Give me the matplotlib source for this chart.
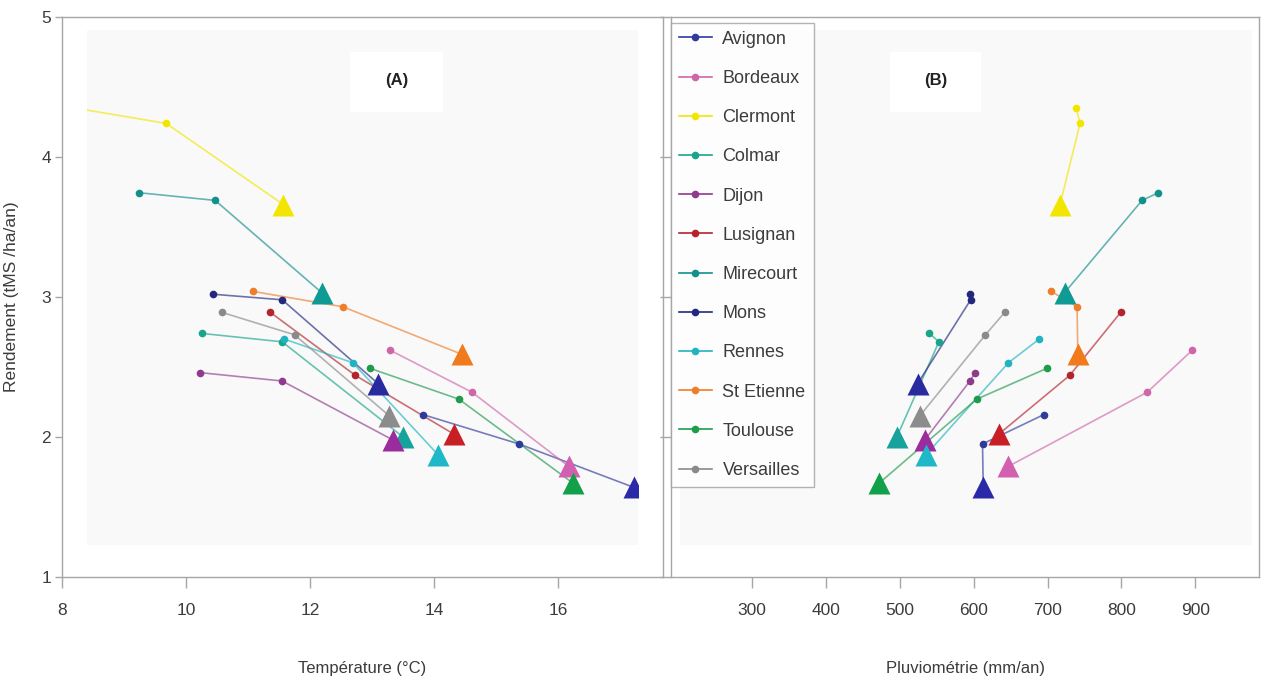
import matplotlib
matplotlib.use("Agg")
import matplotlib.pyplot as plt
from matplotlib.lines import Line2D
from matplotlib.patches import Rectangle

plt.rcParams['font.family'] = ['Liberation Sans', 'DejaVu Sans']

# Rendement des prairies selon la temperature (A) et la pluviometrie (B)
# two observed periods (circles) then the projected period (triangle)
cities = ['Avignon', 'Bordeaux', 'Clermont', 'Colmar', 'Dijon', 'Lusignan',
          'Mirecourt', 'Mons', 'Rennes', 'St Etienne', 'Toulouse', 'Versailles']

temp_c = [
    [13.82, 15.37, 17.22],
    [13.29, 14.61, 16.17],
    [8.20, 9.68, 11.57],
    [10.25, 11.55, 13.50],
    [10.22, 11.55, 13.33],
    [11.36, 12.73, 14.32],
    [9.24, 10.47, 12.19],
    [10.43, 11.55, 13.10],
    [11.58, 12.69, 14.07],
    [11.08, 12.53, 14.45],
    [12.97, 14.40, 16.24],
    [10.58, 11.75, 13.28],
]

pluvio_mm = [
    [695, 612, 613],
    [896, 835, 647],
    [739, 744, 717],
    [540, 553, 496],
    [602, 595, 534],
    [799, 730, 634],
    [850, 828, 723],
    [595, 596, 524],
    [689, 647, 535],
    [705, 740, 741],
    [699, 604, 472],
    [642, 616, 527],
]

rendement = [
    [2.16, 1.95, 1.64],
    [2.62, 2.32, 1.79],
    [4.35, 4.24, 3.66],
    [2.74, 2.68, 2.00],
    [2.46, 2.40, 1.98],
    [2.89, 2.44, 2.02],
    [3.745, 3.69, 3.03],
    [3.02, 2.98, 2.38],
    [2.70, 2.53, 1.87],
    [3.04, 2.93, 2.59],
    [2.49, 2.27, 1.67],
    [2.89, 2.73, 2.15],
]

colors = ['#2e3a9c', '#d066aa', '#f2e600', '#17a68a', '#8e3b8e', '#b3242c',
          '#12908c', '#23287e', '#22b3c0', '#ef7d2a', '#1f9b4c', '#8a8a8a']
tri_colors = ['#2a2aa8', '#d35fb0', '#f2e600', '#17a39b', '#9b2c9e', '#c81e25',
              '#109a94', '#2a2aa0', '#1eb8c8', '#f07a1c', '#13a04a', '#8c8c8c']

W, H = 1261, 700
txt = '#3c3c3c'
spine = '#a6a6a6'

fig = plt.figure(figsize=(W / 100, H / 100), dpi=100)
ax1 = fig.add_axes([62 / W, 1 - 577 / H, 601 / W, 560 / H])
ax2 = fig.add_axes([671 / W, 1 - 577 / H, 588 / W, 560 / H])

ax1.set_xlim(8, 17.69)
ax2.set_xlim(190.3, 986.3)
for ax in (ax1, ax2):
    ax.set_ylim(1, 5)
    ax.set_facecolor('white')
    for s in ax.spines.values():
        s.set_color(spine)
        s.set_linewidth(1.0)
    ax.tick_params(colors=spine, labelcolor=txt, labelsize=12.5, width=1.0)
    ax.tick_params(axis='x', length=8, pad=11)
    ax.tick_params(axis='y', length=5, pad=3)

ax1.set_xticks([8, 10, 12, 14, 16])
ax1.set_yticks([1, 2, 3, 4, 5])
ax2.set_xticks([300, 400, 500, 600, 700, 800, 900])
ax2.set_yticks([1, 2, 3, 4, 5])
ax2.tick_params(axis='y', length=8, labelleft=False)

# inner plot areas (slightly grey), used as clip region
clips = []
for ax, x0, x1 in ((ax1, 0.0416, 0.958), (ax2, 0.015, 0.988)):
    r = Rectangle((x0, 0.057), x1 - x0, 0.92, transform=ax.transAxes,
                  facecolor='#f9f9f9', edgecolor='none', zorder=0)
    ax.add_patch(r)
    clips.append(r)

for i, city in enumerate(cities):
    for ax, xs, clip in ((ax1, temp_c[i], clips[0]), (ax2, pluvio_mm[i], clips[1])):
        ys = rendement[i]
        ln, = ax.plot(xs, ys, color=colors[i], lw=1.2, alpha=0.65, zorder=2)
        pts, = ax.plot(xs[:2], ys[:2], 'o', ms=5.5, color=colors[i], mec='none', zorder=3)
        tri, = ax.plot(xs[2:], ys[2:], '^', ms=16, color=tri_colors[i], mec='none', zorder=4)
        for a in (ln, pts, tri):
            a.set_clip_path(clip)

# panel tags
for ax, cx in ((ax1, 0.557), (ax2, 0.450)):
    ax.add_patch(Rectangle((cx - 0.077, 0.83), 0.154, 0.107, transform=ax.transAxes,
                           facecolor='white', edgecolor='none', zorder=1))
ax1.text(0.557, 0.8875, '(A)', transform=ax1.transAxes, ha='center', va='center',
         fontsize=12, fontweight='bold', color='#222222')
ax2.text(0.450, 0.8875, '(B)', transform=ax2.transAxes, ha='center', va='center',
         fontsize=12, fontweight='bold', color='#222222')

handles = [Line2D([], [], color=c, lw=1.2, marker='o', ms=5.5, mec='none') for c in colors]
leg = ax2.legend(handles, cities, loc='upper left', bbox_to_anchor=(0, 0.99),
                 borderaxespad=0, frameon=True, fancybox=False, fontsize=13,
                 labelspacing=1.23, handlelength=1.8, handletextpad=0.6,
                 borderpad=0.45, labelcolor=txt)
leg.get_frame().set_edgecolor('#a0a0a0')
leg.get_frame().set_linewidth(1.0)

fig.text(12 / W, 1 - 297 / H, 'Rendement (tMS /ha/an)', rotation=90,
         ha='center', va='center', fontsize=12.5, color=txt)
fig.text(362.5 / W, 1 - 669 / H, 'Température (°C)', ha='center', va='center',
         fontsize=12, color=txt)
fig.text(965.5 / W, 1 - 669 / H, 'Pluviométrie (mm/an)', ha='center', va='center',
         fontsize=12, color=txt)

fig.savefig('out.png', dpi=100)
